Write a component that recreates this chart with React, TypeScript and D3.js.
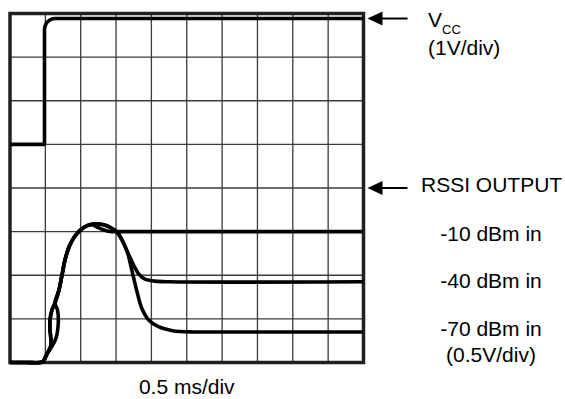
import React from "react";
import * as d3 from "d3";

// Scope screen: 10 horizontal divisions (0.5 ms/div), 8 vertical divisions
const xDivs = d3.range(0, 11);
const yDivs = d3.range(0, 9);

// VCC trace (divisions): t, v
const vccT = [0, 0.976, 0.976, 0.986, 1.015, 1.061, 1.121, 1.191, 1.266, 10];
const vccV = [5, 5, 7.625, 7.692, 7.755, 7.809, 7.85, 7.876, 7.885, 7.885];

// RSSI rise, shared start
const baseT = [0, 0.45, 0.85, 0.93, 1.047];
const baseV = [0, 0, 0, 0.02, 0.2];
// Loop strand A (left)
const strandAT = [1.16, 1.132, 1.132, 1.188, 1.273];
const strandAV = [0.401, 0.745, 0.974, 1.203, 1.364];
// Loop strand B (right)
const strandBT = [1.18, 1.301, 1.366, 1.344, 1.273];
const strandBV = [0.362, 0.557, 0.923, 1.203, 1.364];
// Common rise to peak
const riseT = [1.386, 1.471, 1.556, 1.669, 1.839, 2.065, 2.291];
const riseV = [1.662, 2.006, 2.35, 2.648, 2.9, 3.083, 3.163];
// -10 dBm settling
const s10T = [2.461, 2.659, 2.829, 3.027, 3.3, 10];
const s10V = [3.106, 3.037, 3.003, 3.0, 3.0, 3.0];
// shared fall for -40 / -70
const fallT = [2.518, 2.716, 2.886, 3.027, 3.168, 3.31];
const fallV = [3.175, 3.14, 3.072, 2.991, 2.808, 2.556];
// -40 dBm settling
const s40T = [3.423, 3.536, 3.65, 3.82, 4.1, 4.5, 10];
const s40V = [2.36, 2.17, 2.02, 1.91, 1.865, 1.85, 1.85];
// -70 dBm settling
const s70T = [3.48, 3.59, 3.73, 3.93, 4.2, 4.6, 5.2, 5.8, 10];
const s70V = [2.0, 1.63, 1.24, 0.97, 0.82, 0.73, 0.7, 0.7, 0.7];

const rssiLabels = ["-10 dBm in", "-40 dBm in", "-70 dBm in", "(0.5V/div)"];

const zip = (t: number[], v: number[]) => t.map((d, i) => [d, v[i]] as [number, number]);

export default function App() {
  const x = d3.scaleLinear().domain([0, 10]).range([10, 363.5]);
  const y = d3.scaleLinear().domain([0, 8]).range([362.5, 13.5]);

  const smooth = d3
    .line<[number, number]>()
    .x((d) => x(d[0]))
    .y((d) => y(d[1]))
    .curve(d3.curveCatmullRom.alpha(0.5));
  const straight = d3
    .line<[number, number]>()
    .x((d) => x(d[0]))
    .y((d) => y(d[1]));

  const base = zip(baseT, baseV);
  const A = zip(strandAT, strandAV);
  const B = zip(strandBT, strandBV);
  const rise = zip(riseT, riseV);
  const fall = zip(fallT, fallV);

  const trace10 = [...base, ...A, ...rise, ...zip(s10T, s10V)];
  const trace40 = [...base, ...B, ...rise, ...fall, ...zip(s40T, s40V)];
  const trace70 = [...base, ...A, ...rise, ...fall, ...zip(s70T, s70V)];
  const vcc = zip(vccT, vccV);

  const font = "'Liberation Sans', Arial, sans-serif";
  const ink = "#000";
  const tw = 3.6;

  const arrow = (yy: number) => {
    const tip = x(10) + 4;
    return (
      <g>
        <line x1={tip + 10} x2={tip + 40} y1={yy} y2={yy} stroke={ink} strokeWidth={2} />
        <polygon points={`${tip},${yy} ${tip + 15},${yy - 7} ${tip + 15},${yy + 7}`} fill={ink} />
      </g>
    );
  };

  return (
    <div style={{ position: "absolute", left: 0, top: 0 }}>
      <svg width={565} height={399} style={{ display: "block", background: "#fff" }}>
        <g>
          {xDivs.slice(1, -1).map((d) => (
            <line key={"vx" + d} x1={x(d)} x2={x(d)} y1={y(0)} y2={y(8)} stroke="#3c3a3a" strokeWidth={1.3} />
          ))}
          {yDivs.slice(1, -1).map((d) => (
            <line key={"hy" + d} x1={x(0)} x2={x(10)} y1={y(d)} y2={y(d)} stroke="#3c3a3a" strokeWidth={1.3} />
          ))}
          <rect x={x(0)} y={y(8)} width={x(10) - x(0)} height={y(0) - y(8)} fill="none" stroke="#231f20" strokeWidth={3.5} />
        </g>
        <path d={straight(vcc) || ""} fill="none" stroke={ink} strokeWidth={tw} strokeLinejoin="round" />
        <path d={smooth(trace10) || ""} fill="none" stroke={ink} strokeWidth={tw} />
        <path d={smooth(trace40) || ""} fill="none" stroke={ink} strokeWidth={tw} />
        <path d={smooth(trace70) || ""} fill="none" stroke={ink} strokeWidth={tw} />

        {arrow(y(7.885))}
        {arrow(y(4))}

        <g fontFamily={font} fill={ink}>
          <text x={428} y={27} fontSize={21}>V</text>
          <text x={442} y={34} fontSize={13}>CC</text>
          <text x={428} y={55} fontSize={21}>(1V/div)</text>
          <text x={421} y={192} fontSize={21}>RSSI OUTPUT</text>
          {rssiLabels.map((s, i) => (
            <text key={s} x={491} y={[241, 288, 336, 361.5][i]} fontSize={21} textAnchor="middle">
              {s}
            </text>
          ))}
          <text x={(x(0) + x(10)) / 2} y={394} fontSize={21} textAnchor="middle">0.5 ms/div</text>
        </g>
      </svg>
    </div>
  );
}
